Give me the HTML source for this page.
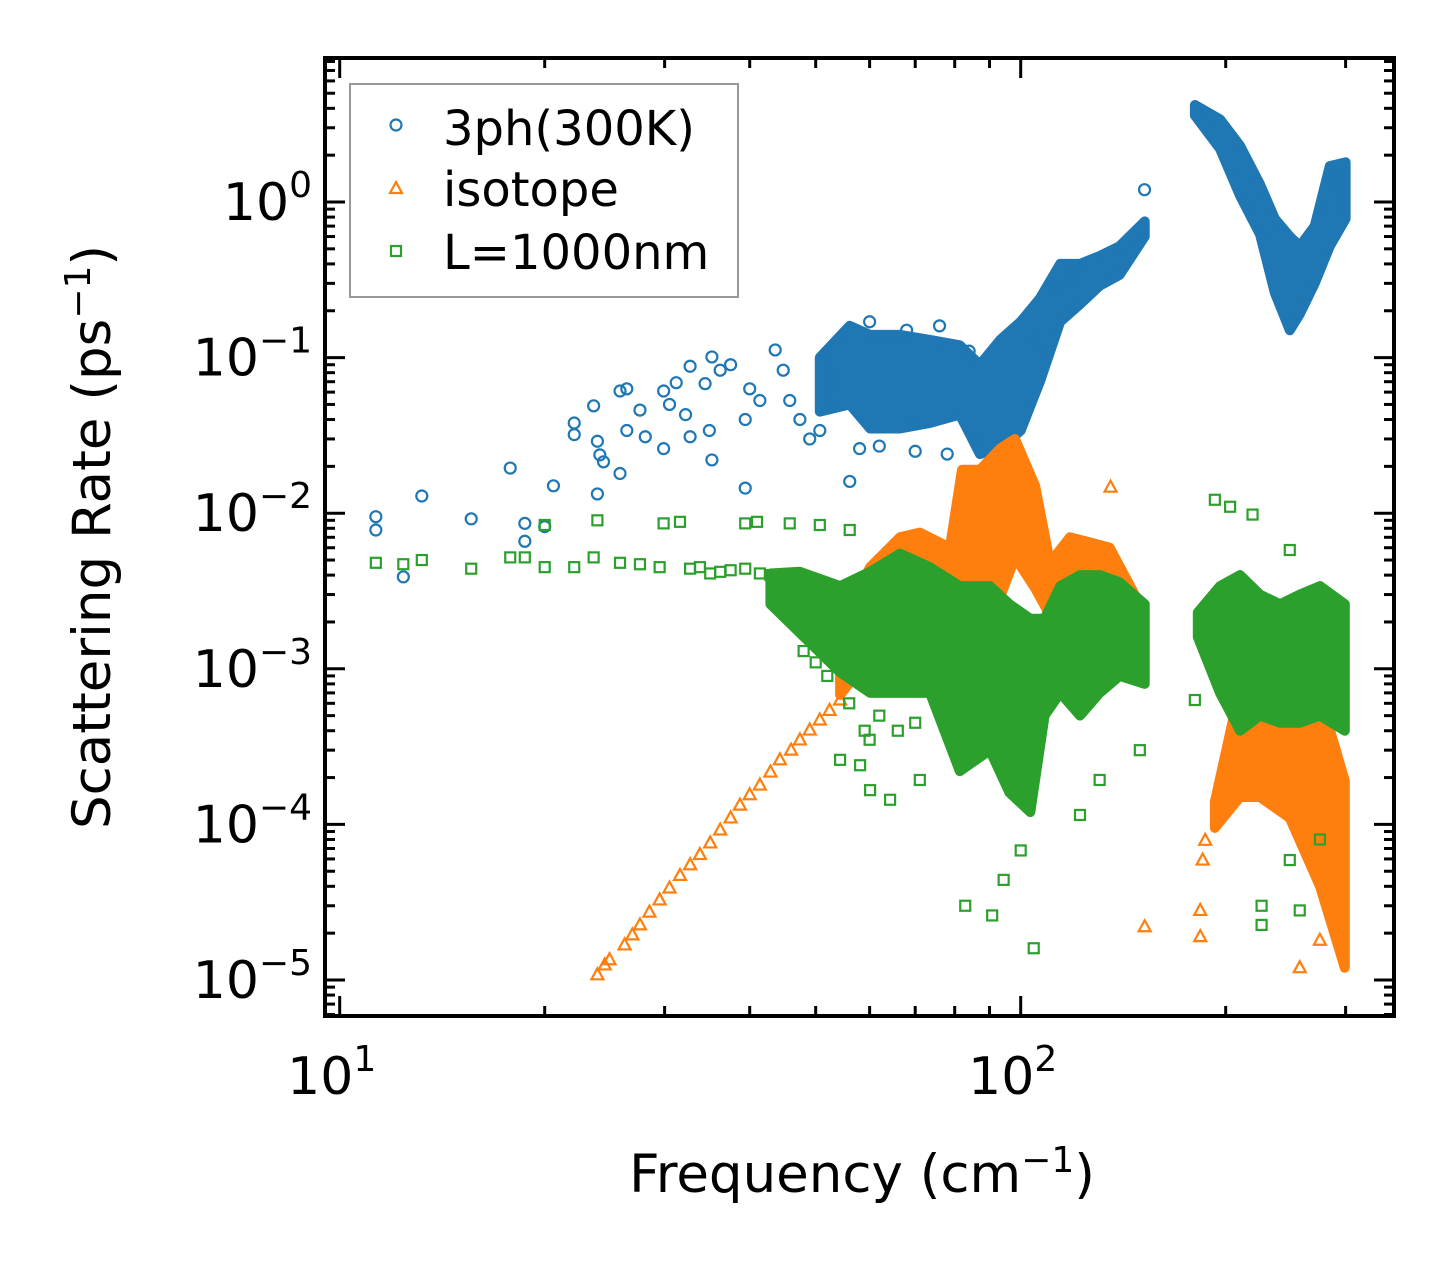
<!DOCTYPE html>
<html><head><meta charset="utf-8"><style>
html,body{margin:0;padding:0;background:#fff;}
svg{display:block;font-family:"DejaVu Sans","Liberation Sans",sans-serif;}
</style></head><body>
<svg id="chart" width="1455" height="1265" viewBox="0 0 1455 1265" xmlns="http://www.w3.org/2000/svg">
<g id="data-layer"></g>
<g id="axis-layer"></g>
<g>
<rect x="350" y="84" width="388" height="213" fill="#fff" fill-opacity="0.8" stroke="#999" stroke-width="2"/>
<circle cx="396" cy="125" r="5.5" fill="none" stroke="#1f77b4" stroke-width="2.2"/>
<text x="443" y="145" font-size="48">3ph(300K)</text>
<path d="M396,182 L402,193 L390,193 Z" fill="none" stroke="#ff7f0e" stroke-width="2.2"/>
<text x="443" y="206" font-size="48">isotope</text>
<rect x="391" y="246" width="10" height="10" fill="none" stroke="#2ca02c" stroke-width="2.2"/>
<text x="443" y="269" font-size="48">L=1000nm</text>
</g>
<text transform="translate(110,537) rotate(-90)" text-anchor="middle" font-size="53">Scattering Rate (ps<tspan font-size="36" dy="-20">−1</tspan><tspan dy="20">)</tspan></text>
<text x="862" y="1192" text-anchor="middle" font-size="53">Frequency (cm<tspan font-size="36" dy="-20">−1</tspan><tspan dy="20">)</tspan></text>
</svg>
<script>
// ---- data ----
const blueFreq=[11.3,11.3,12.4,13.2,15.6,17.8,18.7,18.7,20.0,20.6,22.1,22.1,23.6,23.9,23.9,24.1,24.4,25.8,26.4,25.8,26.4,27.6,28.1,29.9,29.9,30.5,31.2,32.7,32.2,32.7,34.4,35.2,34.9,35.2,36.2,37.5,39.4,39.4,40.0,41.4,43.6,44.8,45.8,47.4,49.0,50.7,56.1,53.2,90.1,152,58,62,70,78,86,95,104,112,120,60,68,76,84];
const blueRate=[0.0095,0.0078,0.0039,0.0129,0.0092,0.0195,0.0086,0.0066,0.0082,0.015,0.038,0.032,0.049,0.029,0.0133,0.0237,0.0214,0.061,0.063,0.018,0.034,0.046,0.031,0.061,0.026,0.05,0.069,0.088,0.043,0.031,0.068,0.101,0.034,0.022,0.083,0.09,0.0145,0.040,0.063,0.053,0.112,0.083,0.053,0.040,0.030,0.034,0.016,0.072,0.0163,1.2,0.026,0.027,0.025,0.024,0.03,0.022,0.13,0.28,0.32,0.17,0.15,0.16,0.11];
const blueBand1Freq=[50.7,56.1,60.1,66.5,73.6,81.4,87.1,93.3,100,106.7,114.3,122.2,130.6,139.7,152.1];
const blueBand1Hi=[0.10,0.16,0.14,0.14,0.13,0.12,0.09,0.13,0.17,0.24,0.40,0.40,0.45,0.52,0.75];
const blueBand1Lo=[0.045,0.05,0.035,0.035,0.038,0.043,0.024,0.026,0.034,0.07,0.17,0.22,0.29,0.34,0.6];
const blueBand2Freq=[180.2,196.2,209.9,224.6,236.2,248.4,256.9,270.2,284.4,300];
const blueBand2Hi=[4.2,3.4,2.3,1.3,0.78,0.6,0.52,0.7,1.7,1.8];
const blueBand2Lo=[3.6,2.2,1.1,0.62,0.26,0.15,0.19,0.3,0.52,0.78];

const orangeFreq=[23.9,24.5,24.9,26.2,26.9,27.6,28.5,29.5,30.5,31.6,32.7,33.8,35.0,36.2,37.5,38.7,40.0,41.4,42.9,44.3,46.0,47.4,49.0,50.7,52.4,54.3,135.5,152.1,183.5,183.5,256.9,275,185,186.6];
const orangeRate=[1.08e-5,1.25e-5,1.35e-5,1.68e-5,1.95e-5,2.26e-5,2.73e-5,3.27e-5,3.9e-5,4.7e-5,5.5e-5,6.4e-5,7.6e-5,9.2e-5,1.1e-4,1.33e-4,1.55e-4,1.79e-4,2.17e-4,2.6e-4,3.0e-4,3.49e-4,4.04e-4,4.69e-4,5.4e-4,6.3e-4,0.0147,2.2e-5,2.8e-5,1.9e-5,1.2e-5,1.8e-5,5.9e-5,7.9e-5];
const orangeBand1Freq=[54.3,60.1,66.5,71.1,78.7,82.0,87.1,93.3,98.1,105,110.4,118.1,126.3,135.1,149.6];
const orangeBand1Hi=[0.0019,0.0045,0.007,0.0075,0.006,0.019,0.019,0.026,0.03,0.015,0.0048,0.007,0.0065,0.006,0.0026];
const orangeBand1Lo=[0.00068,0.0012,0.0016,0.0016,0.0021,0.0021,0.0029,0.0029,0.0052,0.0033,0.0022,0.0014,0.0014,0.0012,0.0009];
const orangeBand2Freq=[192.8,209.9,224.6,248.4,275.1,299.2];
const orangeBand2Hi=[1.4e-4,7.5e-4,4.4e-4,5.8e-4,6.7e-4,1.9e-4];
const orangeBand2Lo=[9.5e-5,1.5e-4,1.5e-4,1.1e-4,4e-5,1.2e-5];

const greenFreq=[11.3,12.4,13.2,15.6,17.8,18.7,20.0,20.0,22.1,23.6,23.9,25.8,27.6,29.9,31.6,29.5,32.7,36.2,39.4,39.4,41.0,42.9,45.8,47.4,50.7,50.7,54.3,56.1,33.8,35.0,37.5,41.4,44.3,54.3,58.1,60.1,64.3,71.1,82.9,90.8,104.5,94.4,100,122.2,130.6,149.6,180.2,192.8,203,219,248.4,225.8,225.8,256.9,248.4,275,48,50,52,53,56,59,60,62,66,70,75,80,84];
const greenRate=[0.0048,0.0047,0.005,0.0044,0.0052,0.0052,0.0045,0.0084,0.0045,0.0052,0.0090,0.0048,0.0047,0.0086,0.0088,0.0045,0.0044,0.0042,0.0044,0.0086,0.0088,0.0040,0.0086,0.0037,0.0084,0.0035,0.0032,0.0078,0.0045,0.0041,0.0043,0.0041,0.0039,2.6e-4,2.4e-4,1.66e-4,1.44e-4,1.93e-4,3.0e-5,2.6e-5,1.6e-5,4.4e-5,6.8e-5,1.15e-4,1.93e-4,3e-4,6.3e-4,0.0122,0.011,0.0098,0.0058,3e-5,2.26e-5,2.8e-5,5.9e-5,8e-5,0.0013,0.0011,0.0009,0.0014,0.0006,0.0004,0.00035,0.0005,0.0004,0.00045,0.0007,0.0004,0.0003];
const greenBand1Freq=[42.9,47.4,54.3,60.1,66.5,73.6,81.4,90.1,96.3,103.3,108.4,114.3,122.2,130.6,139.7,152.1];
const greenBand1Hi=[0.0041,0.0042,0.0034,0.0042,0.0055,0.0045,0.0034,0.0034,0.0026,0.0021,0.0021,0.0034,0.0040,0.0040,0.0036,0.0026];
const greenBand1Lo=[0.0026,0.0017,0.00095,0.0007,0.0007,0.0007,0.00022,0.0003,0.00016,0.00012,0.0005,0.0007,0.0005,0.0007,0.0009,0.0008];
const greenBand2Freq=[182,196.2,209.9,224.6,240.4,256.9,275.1,299.2];
const greenBand2Hi=[0.0023,0.0034,0.004,0.003,0.0026,0.003,0.0034,0.0026];
const greenBand2Lo=[0.0016,0.0007,0.0004,0.0005,0.00045,0.00045,0.0005,0.0004];

const yTickExps=[0,-1,-2,-3,-4,-5];
const xTickExps=[1,2];

// ---- axes ----
const PL=325,PR=1394,PT=58,PB=1016;
const X10=339.7,XD=681,Y0=202,YD=155.6;
function xs(f){return X10+(Math.log10(f)-1)*XD;}
function ys(r){return Y0-Math.log10(r)*YD;}
const NS="http://www.w3.org/2000/svg";
function mk(tag,attrs,parent){const e=document.createElementNS(NS,tag);for(const k in attrs)e.setAttribute(k,attrs[k]);parent.appendChild(e);return e;}
const dl=document.getElementById('data-layer');
const al=document.getElementById('axis-layer');
const clip=mk('clipPath',{id:'pc'},dl);
mk('rect',{x:PL,y:PT,width:PR-PL,height:PB-PT},clip);
dl.setAttribute('clip-path','url(#pc)');

function band(fr,hi,lo,color,name){
  let pts=[];
  for(let i=0;i<fr.length;i++)pts.push(xs(fr[i]).toFixed(1)+','+ys(hi[i]).toFixed(1));
  for(let i=fr.length-1;i>=0;i--)pts.push(xs(fr[i]).toFixed(1)+','+ys(lo[i]).toFixed(1));
  const p=mk('polygon',{points:pts.join(' '),fill:color,stroke:color,'stroke-width':10,'stroke-linejoin':'round'},dl);
  
  
}
function scatter(fr,rt,kind,color,name){
  for(let i=0;i<fr.length;i++){
    const x=xs(fr[i]),y=ys(rt[i]);let e;
    if(kind==='c')e=mk('circle',{cx:x,cy:y,r:5.5,fill:'none',stroke:color,'stroke-width':2.2},dl);
    else if(kind==='t')e=mk('path',{d:`M${x},${y-6.5} L${x+6},${y+4.5} L${x-6},${y+4.5} Z`,fill:'none',stroke:color,'stroke-width':2.2},dl);
    else e=mk('rect',{x:x-5,y:y-5,width:10,height:10,fill:'none',stroke:color,'stroke-width':2.2},dl);
    
    
  }
}
band(blueBand1Freq,blueBand1Hi,blueBand1Lo,'#1f77b4','3ph-dense-band');
band(blueBand2Freq,blueBand2Hi,blueBand2Lo,'#1f77b4','3ph-dense-band');
scatter(blueFreq,blueRate,'c','#1f77b4','3ph-point');
band(orangeBand1Freq,orangeBand1Hi,orangeBand1Lo,'#ff7f0e','isotope-dense-band');
band(orangeBand2Freq,orangeBand2Hi,orangeBand2Lo,'#ff7f0e','isotope-dense-band');
scatter(orangeFreq,orangeRate,'t','#ff7f0e','isotope-point');
band(greenBand1Freq,greenBand1Hi,greenBand1Lo,'#2ca02c','boundary-dense-band');
band(greenBand2Freq,greenBand2Hi,greenBand2Lo,'#2ca02c','boundary-dense-band');
scatter(greenFreq,greenRate,'s','#2ca02c','boundary-point');

// frame
const fr=mk('rect',{x:PL,y:PT,width:PR-PL,height:PB-PT,fill:'none',stroke:'#000','stroke-width':4},al);


for(let d=1;d<=2;d++){for(let m=1;m<=9;m++){const f=m*Math.pow(10,d);const x=xs(f);if(x<PL||x>PR)continue;const L=m===1?20:10;
 mk('line',{x1:x,y1:PB,x2:x,y2:PB-L,stroke:'#000','stroke-width':3},al);
 mk('line',{x1:x,y1:PT,x2:x,y2:PT+L,stroke:'#000','stroke-width':3},al);}}
for(let m=6;m<=9;m++){const x=xs(m);if(x>=PL){mk('line',{x1:x,y1:PB,x2:x,y2:PB-10,stroke:'#000','stroke-width':3},al);mk('line',{x1:x,y1:PT,x2:x,y2:PT+10,stroke:'#000','stroke-width':3},al);}}
for(let d=-6;d<=1;d++){for(let m=1;m<=9;m++){const r=m*Math.pow(10,d);const y=ys(r);if(y<PT||y>PB)continue;const L=m===1?20:10;
 mk('line',{x1:PL,y1:y,x2:PL+L,y2:y,stroke:'#000','stroke-width':3},al);
 mk('line',{x1:PR,y1:y,x2:PR-L,y2:y,stroke:'#000','stroke-width':3},al);}}
xTickExps.forEach(e=>{
 const t=mk('text',{x:xs(Math.pow(10,e))-8,y:1094,'text-anchor':'middle','font-size':52},al);
 
 
 t.innerHTML='10<tspan font-size="36" dy="-23">'+e+'</tspan>';
});
yTickExps.forEach(e=>{
 const t=mk('text',{x:312,y:ys(Math.pow(10,e))+18,'text-anchor':'end','font-size':52},al);
 
 
 t.innerHTML='10<tspan font-size="36" dy="-23">'+(e<0?'−'+(-e):e)+'</tspan>';
});
</script>
</body></html>
